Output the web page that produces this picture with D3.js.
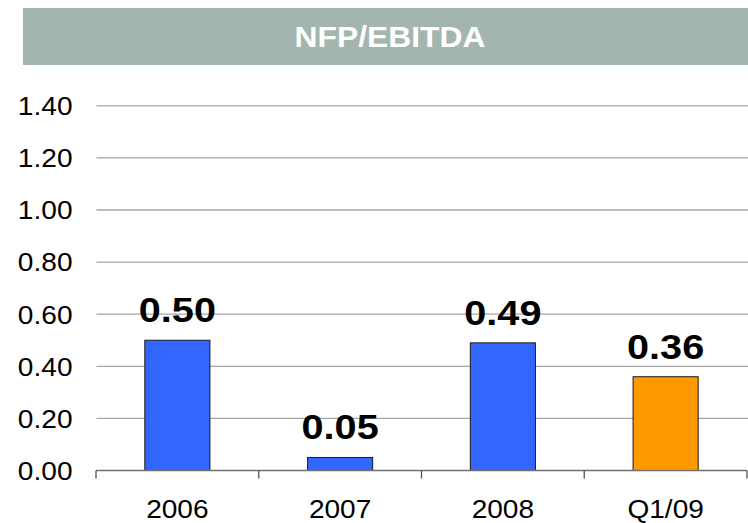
<!DOCTYPE html>
<html>
<head>
<meta charset="UTF-8">
<script src="https://cdn.jsdelivr.net/npm/d3@7"></script>
<style>
body { margin:0; background:#fff; }
text { font-family: Arial, "Liberation Sans", sans-serif; }
</style>
</head>
<body>
<script>

var width = 748;
var height = 523;

var title = "NFP/EBITDA";
var categories = ["2006", "2007", "2008", "Q1/09"];
var values = [0.50, 0.05, 0.49, 0.36];
var barcolors = ["#3366ff", "#3366ff", "#3366ff", "#ff9900"];
var yticks = [0, 0.2, 0.4, 0.6, 0.8, 1.0, 1.2, 1.4];

var svg = d3.select("body")
    .append("svg")
    .attr("width", width)
    .attr("height", height);

// banner
svg.append("rect")
    .attr("x", 23)
    .attr("y", 8)
    .attr("width", width - 23)
    .attr("height", 57)
    .attr("fill", "#a2b6af");

svg.append("text")
    .attr("transform", "translate(390,46.5) scale(1.06,1)")
    .attr("text-anchor", "middle")
    .attr("font-size", 30)
    .attr("font-weight", "bold")
    .attr("fill", "#fff")
    .text(title);

var x = d3.scaleBand()
    .domain(categories)
    .range([96, 747])
    .paddingInner(0.6)
    .paddingOuter(0.3);

var y = d3.scaleLinear()
    .domain([0, 1.4])
    .range([470.5, 105.8]);

// gridlines
svg.append("g")
    .selectAll("line")
    .data(yticks.filter(function(d) { return d > 0; }))
    .enter().append("line")
    .attr("x1", 96.5)
    .attr("x2", width)
    .attr("y1", function(d) { return y(d); })
    .attr("y2", function(d) { return y(d); })
    .attr("stroke", "#a6a6a6")
    .attr("stroke-width", 1.3);

// y labels
svg.append("g")
    .selectAll("text")
    .data(yticks)
    .enter().append("text")
    .attr("transform", function(d) { return "translate(72.5," + (y(d) + 9.3) + ") scale(1.08,1)"; })
    .attr("text-anchor", "end")
    .attr("font-size", 26)
    .attr("fill", "#000")
    .text(function(d) { return d3.format(".2f")(d); });

// bars
svg.append("g")
    .selectAll("rect")
    .data(values)
    .enter().append("rect")
    .attr("x", function(d, i) { return x(categories[i]); })
    .attr("y", function(d) { return y(d); })
    .attr("width", x.bandwidth())
    .attr("height", function(d) { return y(0) - y(d); })
    .attr("fill", function(d, i) { return barcolors[i]; })
    .attr("stroke", "#1a1a1a")
    .attr("stroke-width", 1);

// value labels
svg.append("g")
    .selectAll("text")
    .data(values)
    .enter().append("text")
    .attr("transform", function(d, i) {
        return "translate(" + (x(categories[i]) + x.bandwidth() / 2) + "," + (y(d) - 18) + ") scale(1.1,1)";
    })
    .attr("text-anchor", "middle")
    .attr("font-size", 36)
    .attr("font-weight", "bold")
    .attr("fill", "#000")
    .text(function(d) { return d3.format(".2f")(d); });

// x axis
var xaxis = svg.append("g");
xaxis.append("line")
    .attr("x1", 96)
    .attr("x2", 747)
    .attr("y1", y(0))
    .attr("y2", y(0))
    .attr("stroke", "#707070")
    .attr("stroke-width", 1.5);

var bounds = categories.map(function(c) { return x(c) - x.step() * x.paddingInner() / 2; });
bounds.push(747);
bounds[0] = 96;
xaxis.selectAll(".tick")
    .data(bounds)
    .enter().append("line")
    .attr("class", "tick")
    .attr("x1", function(d) { return d; })
    .attr("x2", function(d) { return d; })
    .attr("y1", y(0))
    .attr("y2", y(0) + 8)
    .attr("stroke", "#505050")
    .attr("stroke-width", 1.3);

xaxis.selectAll(".lab")
    .data(categories)
    .enter().append("text")
    .attr("class", "lab")
    .attr("transform", function(d) { return "translate(" + (x(d) + x.bandwidth() / 2) + ",518) scale(1.1,1)"; })
    .attr("text-anchor", "middle")
    .attr("font-size", 25.5)
    .attr("fill", "#000")
    .text(function(d) { return d; });

</script>
</body>
</html>
